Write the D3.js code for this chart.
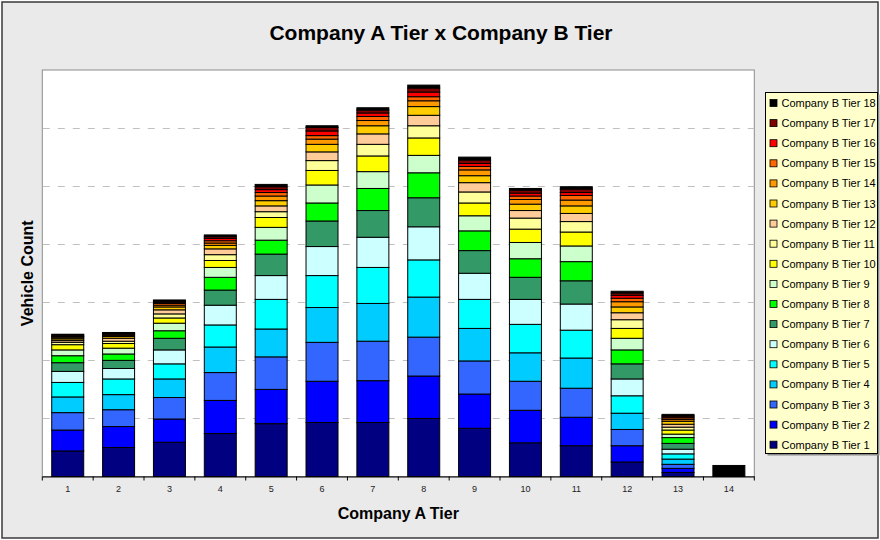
<!DOCTYPE html>
<html>
<head>
<meta charset="utf-8">
<script src="https://cdn.jsdelivr.net/npm/d3@7"></script>
<style>
  html, body { margin: 0; padding: 0; background: #ffffff; }
  svg { display: block; font-family: "Liberation Sans", Arial, sans-serif; }
</style>
</head>
<body>
<svg id="chart" width="880" height="540"></svg>
<script>
// Company A tiers along the x axis
const categories = ["1","2","3","4","5","6","7","8","9","10","11","12","13","14"];

// Vehicle counts per Company B tier, one value per Company A tier
const tier1  = [44, 50, 59, 74, 91, 93, 93, 100, 83, 58, 53, 25, 7, 0];
const tier2  = [36, 36, 40, 57, 59, 71, 72, 73, 59, 56, 49, 28, 7, 0];
const tier3  = [30, 29, 37, 48, 56, 67, 68, 67, 57, 50, 50, 28, 7, 0];
const tier4  = [27, 26, 32, 44, 48, 60, 65, 69, 56, 49, 52, 28, 9, 0];
const tier5  = [25, 27, 26, 38, 51, 55, 62, 64, 50, 49, 48, 30, 9, 0];
const tier6  = [19, 18, 24, 34, 41, 50, 52, 57, 45, 43, 45, 29, 8, 0];
const tier7  = [15, 14, 20, 26, 37, 44, 46, 50, 39, 38, 40, 26, 10, 0];
const tier8  = [12, 11, 13, 22, 24, 31, 38, 43, 34, 32, 33, 24, 10, 0];
const tier9  = [10, 10, 13, 17, 22, 31, 29, 30, 26, 28, 27, 20, 6, 0];
const tier10 = [9, 8, 9, 12, 17, 25, 27, 30, 22, 23, 24, 17, 7, 0];
const tier11 = [4, 4, 7, 10, 10, 17, 20, 21, 19, 19, 18, 15, 5, 0];
const tier12 = [3, 5, 7, 10, 10, 15, 18, 18, 16, 13, 14, 12, 5, 0];
const tier13 = [3, 3, 5, 6, 9, 13, 14, 15, 12, 11, 13, 10, 5, 0];
const tier14 = [2, 2, 3, 4, 8, 9, 9, 10, 10, 8, 10, 9, 3, 0];
const tier15 = [2, 2, 3, 4, 6, 6, 7, 7, 6, 6, 8, 6, 3, 0];
const tier16 = [1, 1, 2, 4, 5, 8, 6, 8, 5, 5, 5, 5, 2, 0];
const tier17 = [2, 1, 2, 3, 5, 6, 5, 7, 6, 5, 6, 4, 2, 0];
const tier18 = [1, 1, 2, 3, 4, 3, 4, 5, 5, 3, 4, 3, 2, 19];

const seriesValues = [tier1, tier2, tier3, tier4, tier5, tier6, tier7, tier8, tier9,
                      tier10, tier11, tier12, tier13, tier14, tier15, tier16, tier17, tier18];
const seriesNames = seriesValues.map((_, i) => "Company B Tier " + (i + 1));
const seriesColors = ["#000080", "#0000FF", "#3366FF", "#00CCFF", "#00FFFF", "#CCFFFF",
                      "#339966", "#00FF00", "#CCFFCC", "#FFFF00", "#FFFF99", "#FFCC99",
                      "#FFCC00", "#FF9900", "#FF6600", "#FF0000", "#800000", "#000000"];

// Value axis: gridlines every 100, no printed labels
const yTicks = [100, 200, 300, 400, 500, 600];
const yMax = 700;

const svg = d3.select("#chart");
const W = 880, H = 540;
const plot = { left: 42.3, right: 754.3, top: 70, bottom: 476.5 };

// Chart area background and frame
svg.append("rect")
  .attr("x", 2).attr("y", 2).attr("width", W - 4).attr("height", H - 4)
  .attr("fill", "#EAEAEA").attr("stroke", "#3a3a3a").attr("stroke-width", 1.5);

// Plot area
svg.append("rect")
  .attr("x", plot.left).attr("y", plot.top)
  .attr("width", plot.right - plot.left).attr("height", plot.bottom - plot.top)
  .attr("fill", "#ffffff").attr("stroke", "#8c8c8c").attr("stroke-width", 1);

const x = d3.scaleBand()
  .domain(categories)
  .range([plot.left, plot.right])
  .paddingInner(0.371)
  .paddingOuter(0.1855);

const y = d3.scaleLinear().domain([0, yMax]).range([plot.bottom, plot.top]);

// Dashed gridlines
svg.append("g")
  .selectAll("line")
  .data(yTicks)
  .join("line")
  .attr("x1", plot.left + 0.5).attr("x2", plot.right)
  .attr("y1", d => Math.round(y(d)) + 0.5).attr("y2", d => Math.round(y(d)) + 0.5)
  .attr("stroke", "#c0c0c0").attr("stroke-width", 1)
  .attr("stroke-dasharray", "7,8");

// Stacked bars
const table = categories.map((c, i) => {
  const row = { category: c };
  seriesNames.forEach((n, k) => { row[n] = seriesValues[k][i]; });
  return row;
});
const stacked = d3.stack().keys(seriesNames)(table);

const layers = svg.append("g")
  .selectAll("g")
  .data(stacked)
  .join("g")
  .attr("fill", (d, i) => seriesColors[i]);

layers.selectAll("rect")
  .data(d => d.filter(s => s[1] - s[0] > 0))
  .join("rect")
  .attr("x", d => x(d.data.category))
  .attr("width", x.bandwidth())
  .attr("y", d => y(d[1]))
  .attr("height", d => y(d[0]) - y(d[1]))
  .attr("stroke", "#000000")
  .attr("stroke-width", 1);

// Category axis
const xAxis = d3.axisBottom(x).tickSize(0).tickPadding(9);
const gx = svg.append("g")
  .attr("transform", `translate(0,${plot.bottom})`)
  .call(xAxis);
gx.select(".domain").attr("stroke", "#000000").attr("stroke-width", 1.2);
gx.selectAll("text")
  .attr("font-family", "Liberation Sans, Arial, sans-serif")
  .attr("font-size", 9).attr("fill", "#222");

// Tick marks between categories
const boundaries = d3.range(categories.length + 1).map(i => plot.left + i * x.step());
gx.append("g")
  .selectAll("line")
  .data(boundaries)
  .join("line")
  .attr("x1", d => d).attr("x2", d => d)
  .attr("y1", 0).attr("y2", 4)
  .attr("stroke", "#000000").attr("stroke-width", 1);

// Titles
svg.append("text")
  .attr("x", 441).attr("y", 40)
  .attr("text-anchor", "middle")
  .attr("font-size", 21).attr("font-weight", "bold").attr("fill", "#000")
  .text("Company A Tier x Company B Tier");

svg.append("text")
  .attr("x", (plot.left + plot.right) / 2).attr("y", 519)
  .attr("text-anchor", "middle")
  .attr("font-size", 16).attr("font-weight", "bold").attr("fill", "#000")
  .text("Company A Tier");

svg.append("text")
  .attr("transform", `translate(33,${(plot.top + plot.bottom) / 2}) rotate(-90)`)
  .attr("text-anchor", "middle")
  .attr("font-size", 16).attr("font-weight", "bold").attr("fill", "#000")
  .text("Vehicle Count");

// Legend, highest tier first
const legend = { x: 765.5, y: 92.5, w: 112, h: 361 };
svg.append("rect")
  .attr("x", legend.x + 2).attr("y", legend.y + 2)
  .attr("width", legend.w).attr("height", legend.h)
  .attr("fill", "#8a8a8a");
svg.append("rect")
  .attr("x", legend.x).attr("y", legend.y)
  .attr("width", legend.w).attr("height", legend.h)
  .attr("fill", "#FFFFCC").attr("stroke", "#000").attr("stroke-width", 1);

const legendItems = seriesNames.map((n, i) => ({ name: n, color: seriesColors[i] })).reverse();
const items = svg.append("g")
  .selectAll("g")
  .data(legendItems)
  .join("g")
  .attr("transform", (d, i) => `translate(${legend.x + 4},${legend.y + 10.5 + i * 20.1})`);

items.append("rect")
  .attr("x", 0.5).attr("y", -3.5)
  .attr("width", 7).attr("height", 7)
  .attr("fill", d => d.color)
  .attr("stroke", "#000").attr("stroke-width", 0.8);

items.append("text")
  .attr("x", 12).attr("y", 4)
  .attr("font-size", 11).attr("fill", "#000")
  .text(d => d.name);
</script>
</body>
</html>
